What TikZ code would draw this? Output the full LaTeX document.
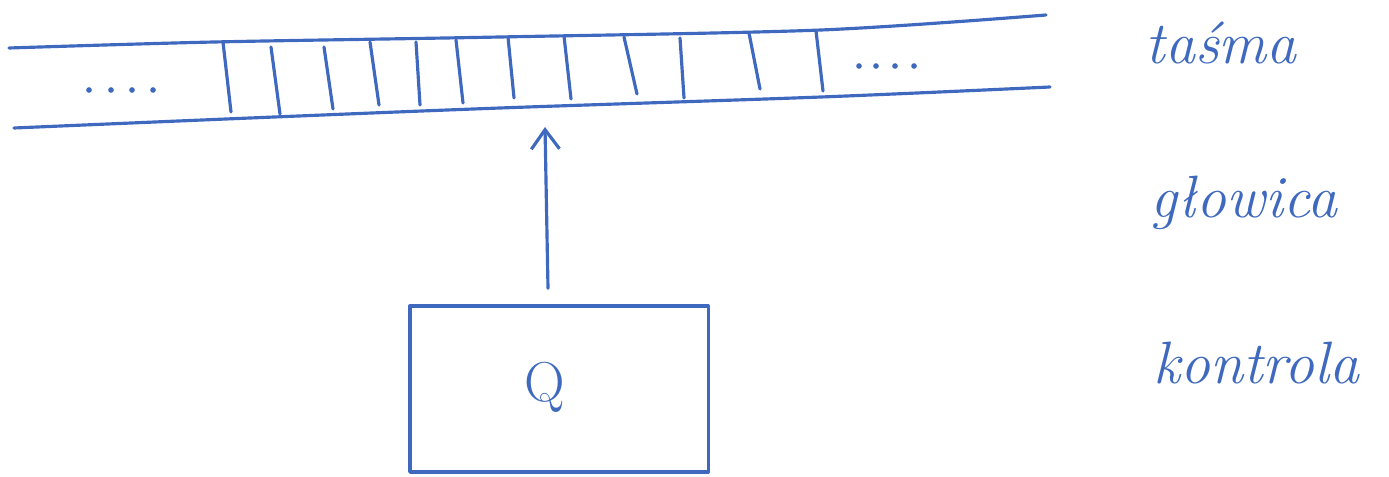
\documentclass[tikz,border=0pt]{standalone}
\usepackage{fontspec}
\usetikzlibrary{arrows.meta}
\definecolor{penblue}{RGB}{62,105,190}

\begin{document}
\begin{tikzpicture}[x=0.01cm, y=-0.01cm,
    pen/.style={draw=penblue, line width=0.9pt, line cap=round, line join=round},
    arrow/.style={pen, -{Straight Barb[length=5.5pt, width=8pt]}},
    ctrlbox/.style={pen, rectangle, minimum width=2.98cm, minimum height=1.66cm,
                    inner sep=0pt},
    lbl/.style={anchor=base west, text=penblue, inner sep=0pt,
                font=\fontsize{17}{20}\selectfont\itshape},
    dot/.style={fill=penblue}
]
\useasboundingbox (0,0) rectangle (1389,476);

% Tape
\draw[pen] plot[smooth, tension=0.5] coordinates
    {(9,48) (214,42) (500,37) (821,30) (1046,15)};
\draw[pen] plot[smooth, tension=0.5] coordinates
    {(14,128) (250,118) (500,108) (821,97) (1050,87)};
\foreach \xa/\ya/\xb/\yb in {223/42/231/112, 271/47/280/114, 324/47/333/109,
    370/42/379/105, 416/42/420/105, 456/40/463/103, 508/37/514/98,
    564/36/571/99, 624/37/637/94, 680/38/684/98, 749/33/760/89, 816/31/823/91}
  \draw[pen] (\xa,\ya) -- (\xb,\yb);
\foreach \x in {89,111,132,153}
  \fill[dot] (\x,90) circle (0.8pt);
\foreach \x in {859,876,895,914}
  \fill[dot] (\x,66) circle (0.8pt);

% Control
\node[ctrlbox] (ctrl) at (559,389) {};
\node[text=penblue, font=\fontsize{16}{18}\selectfont] (state) at (545,387) {Q};
\coordinate (head) at (545,127);
\draw[arrow] ([xshift=-0.11cm, yshift=0.16cm]ctrl.north) -- (head);

% Labels
\node[lbl] (lblTape) at (1145,64) {taśma};
\node[lbl] (lblHead) at (1150,217) {głowica};
\node[lbl] (lblCtrl) at (1153,383) {kontrola};
\end{tikzpicture}
\end{document}
